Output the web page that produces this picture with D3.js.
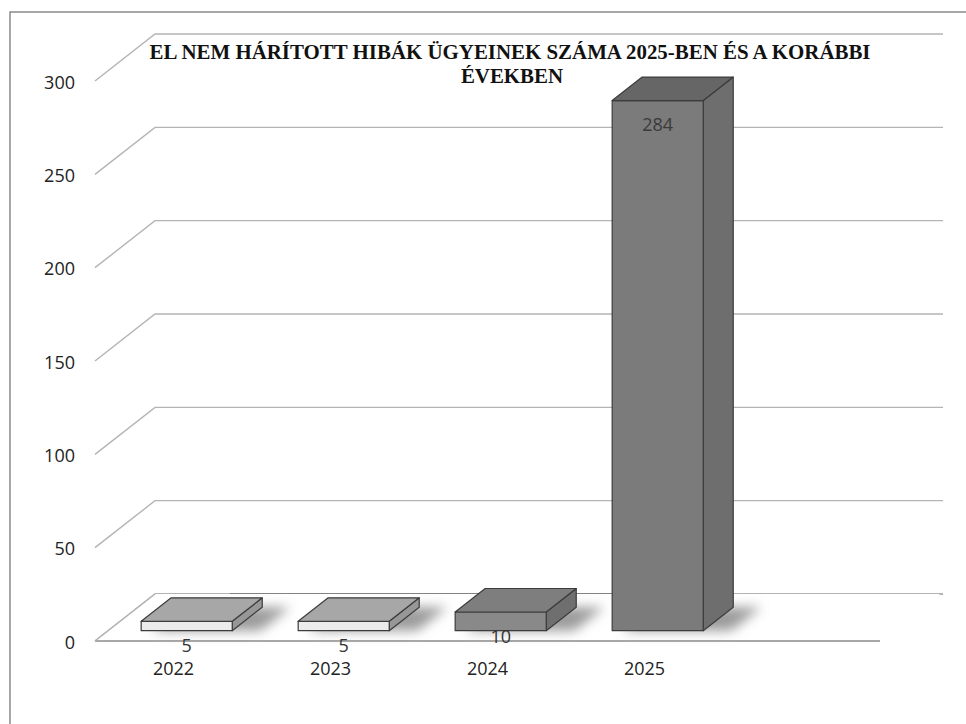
<!DOCTYPE html>
<html><head><meta charset="utf-8">
<script src="https://cdn.jsdelivr.net/npm/d3@7"></script>
<style>html,body{margin:0;padding:0;background:#fff;}svg{display:block;}</style>
</head><body>
<svg id="chart" width="966" height="724"></svg>
<script>
// ---- data ----
const categories = ["2022", "2023", "2024", "2025"];
const values = [5, 5, 10, 284];
const yTicks = [0, 50, 100, 150, 200, 250, 300];
const titleLines = ["EL NEM HÁRÍTOTT HIBÁK ÜGYEINEK SZÁMA 2025-BEN ÉS A KORÁBBI", "ÉVEKBEN"];

// ---- styles ----
const frontFill = ["#ececec", "#ececec", "#898989", "#7b7b7b"];
const topFill   = ["#a7a7a7", "#a7a7a7", "#7e7e7e", "#666666"];
const sideFill  = ["#979797", "#979797", "#6f6f6f", "#6e6e6e"];

const svg = d3.select("#chart");
const W = 966, H = 724;

// layout
const x0 = 95, slot = 157;
const floorRight = 880;
const depth = {dx: 60, dy: -47};
const f0 = 0.22, f1 = 0.72;

const x = d3.scaleBand().domain(categories).range([x0, x0 + slot * categories.length]).padding(0);
const y = d3.scaleLinear().domain([0, 300]).range([641, 81]);

// frame
svg.append("path").attr("d", `M10,${H} L10,12 L${W},12`).attr("fill", "none").attr("stroke", "#8a8a8a").attr("stroke-width", 1.5);

const defs = svg.append("defs");
defs.append("filter").attr("id", "blur").attr("x", "-50%").attr("y", "-100%").attr("width", "200%").attr("height", "300%")
  .append("feGaussianBlur").attr("stdDeviation", 6);

// gridlines (back wall + left wall)
const grid = svg.append("g");
yTicks.forEach(t => {
  const yy = y(t);
  grid.append("path")
    .attr("d", `M${x0},${yy} L${x0 + depth.dx},${yy + depth.dy} L943,${yy + depth.dy}`)
    .attr("fill", "none").attr("stroke", t === 0 ? "#9a9a9a" : "#b4b4b4").attr("stroke-width", 1.4);
});
// darker back floor edge segment
grid.append("line").attr("x1", 230).attr("x2", 615).attr("y1", y(0) + depth.dy).attr("y2", y(0) + depth.dy)
  .attr("stroke", "#555").attr("stroke-width", 1.2);

// floor
svg.append("path")
  .attr("d", `M${x0},${y(0)} L${floorRight},${y(0)} L${floorRight + depth.dx},${y(0) + depth.dy} L${x0 + depth.dx},${y(0) + depth.dy} Z`)
  .attr("fill", "#fff").attr("stroke", "none");
svg.append("line").attr("x1", x0).attr("x2", floorRight).attr("y1", y(0)).attr("y2", y(0))
  .attr("stroke", "#a8a8a8").attr("stroke-width", 2.2);
svg.append("line").attr("x1", x0).attr("x2", x0 + depth.dx).attr("y1", y(0)).attr("y2", y(0) + depth.dy)
  .attr("stroke", "#b4b4b4").attr("stroke-width", 1.4);

// bars
const bw = x.bandwidth() * 0.58;
function geom(c, v) {
  const left = x(c) + (x.bandwidth() - bw) / 2;
  const fx = left + depth.dx * f0, fy = y(0) + depth.dy * f0;
  const bx = left + depth.dx * f1, by = y(0) + depth.dy * f1;
  const h = y(0) - y(v);
  return {fx, fy, bx, by, h};
}

const shadows = svg.append("g").attr("filter", "url(#blur)");
categories.forEach((c, i) => {
  const g = geom(c, values[i]);
  shadows.append("path")
    .attr("d", `M${g.fx + 10},${g.fy} L${g.fx + bw + 28},${g.fy} L${g.bx + bw + 28},${g.by} L${g.bx + 10},${g.by} Z`)
    .attr("fill", "#7a7a7a").attr("opacity", 0.75);
});

const bars = svg.append("g").attr("stroke", "#3c3c3c").attr("stroke-width", 1.2).attr("stroke-linejoin", "round");
categories.forEach((c, i) => {
  const g = geom(c, values[i]);
  const ft = g.fy - g.h, bt = g.by - g.h;
  // side
  bars.append("path")
    .attr("d", `M${g.fx + bw},${g.fy} L${g.bx + bw},${g.by} L${g.bx + bw},${bt} L${g.fx + bw},${ft} Z`)
    .attr("fill", sideFill[i]);
  // front
  bars.append("rect").attr("x", g.fx).attr("y", ft).attr("width", bw).attr("height", g.h).attr("fill", frontFill[i]);
  // top
  bars.append("path")
    .attr("d", `M${g.fx},${ft} L${g.fx + bw},${ft} L${g.bx + bw},${bt} L${g.bx},${bt} Z`)
    .attr("fill", topFill[i]);
});

const sans = "'Open Sans', 'Noto Sans', sans-serif";

// y tick labels
svg.append("g").selectAll("text").data(yTicks).join("text")
  .attr("x", 75).attr("y", d => y(d) + 3).attr("text-anchor", "end").attr("dominant-baseline", "middle")
  .attr("font-family", sans).attr("font-size", 18).attr("fill", "#222").text(d => d);

// category labels
svg.append("g").selectAll("text").data(categories).join("text")
  .attr("x", d => x(d) + x.bandwidth() / 2).attr("y", 670).attr("text-anchor", "middle").attr("dominant-baseline", "middle")
  .attr("font-family", sans).attr("font-size", 18).attr("fill", "#222").text(d => d);

// value labels
svg.append("g").selectAll("text").data(categories).join("text")
  .attr("x", (c) => geom(c, 0).fx + bw / 2)
  .attr("y", (c, i) => { const g = geom(c, values[i]); return g.fy - g.h + 26; })
  .attr("text-anchor", "middle").attr("dominant-baseline", "middle")
  .attr("font-family", sans).attr("font-size", 18).attr("fill", (c, i) => i === 3 ? "#3a3a3a" : "#333")
  .text((c, i) => values[i]);

// title
const serif = "'Liberation Serif', 'Times New Roman', serif";
const t1 = svg.append("text").attr("x", 510).attr("y", 59).attr("text-anchor", "middle")
  .attr("font-family", serif).attr("font-weight", "bold").attr("font-size", 20).attr("fill", "#111").text(titleLines[0]);
const nat1 = t1.node().getComputedTextLength();
const ratio = 721 / nat1;
t1.attr("textLength", 721).attr("lengthAdjust", "spacingAndGlyphs");
const t2 = svg.append("text").attr("x", 512).attr("y", 83).attr("text-anchor", "middle")
  .attr("font-family", serif).attr("font-weight", "bold").attr("font-size", 20).attr("fill", "#111").text(titleLines[1]);
const nat2 = t2.node().getComputedTextLength();
t2.attr("textLength", nat2 * ratio).attr("lengthAdjust", "spacingAndGlyphs");
</script>
</body></html>
